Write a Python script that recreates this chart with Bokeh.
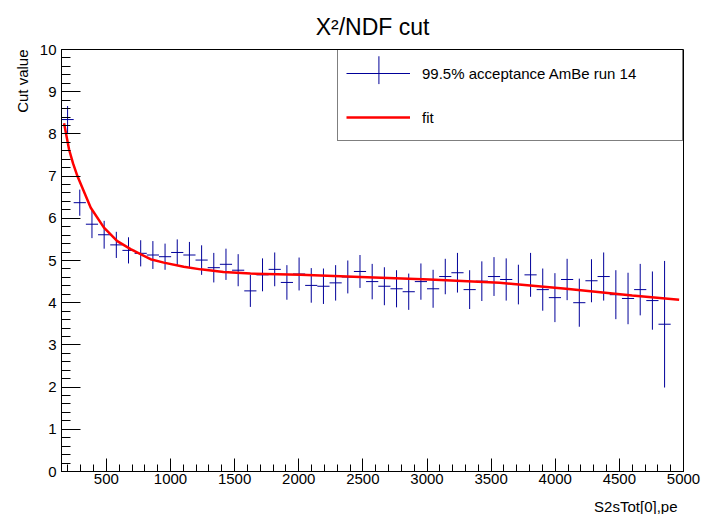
import numpy as np
from bokeh.plotting import figure
from bokeh.models import FixedTicker, Legend, LegendItem, Range1d, Title
from bokeh.embed import file_html
from bokeh.resources import INLINE

# ---- data ----
bin_centers = [197.5, 292.5, 387.5, 482.5, 577.5, 672.5, 767.5, 862.5, 957.5, 1052.5,
               1147.5, 1242.5, 1337.5, 1432.5, 1527.5, 1622.5, 1717.5, 1812.5, 1907.5, 2002.5,
               2097.5, 2192.5, 2287.5, 2382.5, 2477.5, 2572.5, 2667.5, 2762.5, 2857.5, 2952.5,
               3047.5, 3142.5, 3237.5, 3332.5, 3427.5, 3522.5, 3617.5, 3712.5, 3807.5, 3902.5,
               3997.5, 4092.5, 4187.5, 4282.5, 4377.5, 4472.5, 4567.5, 4662.5, 4757.5, 4852.5]
bin_half_width = 47.5
cut_values = [8.34, 6.37, 5.86, 5.61, 5.37, 5.24, 5.17, 5.13, 5.09, 5.19,
              5.13, 5.01, 4.83, 4.91, 4.77, 4.28, 4.66, 4.79, 4.48, 4.68,
              4.41, 4.39, 4.47, 4.61, 4.74, 4.50, 4.39, 4.33, 4.26, 4.50,
              4.33, 4.62, 4.71, 4.31, 4.51, 4.62, 4.55, 4.43, 4.66, 4.31,
              4.12, 4.55, 4.00, 4.52, 4.62, 4.19, 4.10, 4.31, 4.05, 3.49]
cut_errors = [0.32, 0.31, 0.33, 0.33, 0.31, 0.31, 0.31, 0.33, 0.31, 0.31,
              0.31, 0.35, 0.35, 0.37, 0.38, 0.38, 0.39, 0.40, 0.41, 0.39,
              0.41, 0.42, 0.42, 0.39, 0.39, 0.42, 0.45, 0.44, 0.43, 0.43,
              0.45, 0.42, 0.47, 0.46, 0.47, 0.46, 0.50, 0.47, 0.52, 0.50,
              0.58, 0.49, 0.57, 0.51, 0.57, 0.58, 0.61, 0.61, 0.69, 1.50]
fit_x = [170, 209, 240, 274, 378, 481, 585, 689, 844, 948, 1103, 1235, 1413, 1624,
         2013, 2480, 3022, 3566, 4084, 4600, 4966]
fit_y = [8.25, 7.63, 7.30, 7.00, 6.25, 5.78, 5.46, 5.27, 5.03, 4.95, 4.85, 4.79, 4.73, 4.69,
         4.66, 4.61, 4.55, 4.47, 4.33, 4.17, 4.07]
x_major_ticks = [500, 1000, 1500, 2000, 2500, 3000, 3500, 4000, 4500, 5000]
y_major_ticks = [0, 1, 2, 3, 4, 5, 6, 7, 8, 9, 10]

title_text = "X\u00b2/NDF cut"
x_title = "S2sTot[0],pe"
y_title = "Cut value"
series_label = "99.5% acceptance AmBe run 14"
fit_label = "fit"

FONT = "Liberation Sans"
BLUE = "#000099"

x = np.array(bin_centers)
y = np.array(cut_values)
e = np.array(cut_errors)

p = figure(width=703, height=514, x_range=Range1d(150, 5000), y_range=Range1d(0, 10),
           output_backend="svg", toolbar_location=None,
           min_border_left=61, min_border_right=20, min_border_top=49, min_border_bottom=42)
p.background_fill_color = "white"
p.border_fill_color = "white"
p.outline_line_color = "black"
p.outline_line_width = 1
p.grid.visible = False

p.title.text = title_text
p.title.align = "center"
p.title.text_font = FONT
p.title.text_font_size = "23px"
p.title.text_font_style = "normal"
p.title.text_color = "black"
p.title.standoff = 20

# axes
p.xaxis.ticker = FixedTicker(ticks=x_major_ticks, minor_ticks=list(np.arange(200, 5001, 100)))
p.yaxis.ticker = FixedTicker(ticks=y_major_ticks, minor_ticks=list(np.round(np.arange(0, 10.01, 0.2), 2)))
for ax in (p.xaxis, p.yaxis):
    ax.axis_line_color = "black"
    ax.major_tick_line_color = "black"
    ax.minor_tick_line_color = "black"
    ax.major_tick_out = 0
    ax.minor_tick_out = 0
    ax.major_label_text_font = FONT
    ax.major_label_text_font_size = "15px"
    ax.major_label_text_color = "black"
p.xaxis.major_tick_in = 13
p.xaxis.minor_tick_in = 7
p.xaxis.major_label_standoff = 2
p.yaxis.major_tick_in = 19
p.yaxis.minor_tick_in = 9
p.yaxis.major_label_standoff = 5

# data error bars
r_h = p.segment(x0=x - bin_half_width, x1=x + bin_half_width, y0=y, y1=y,
                line_color=BLUE, line_width=1)
r_v = p.segment(x0=x, x1=x, y0=y - e, y1=y + e, line_color=BLUE, line_width=1)

# fit
r_fit = p.line(fit_x, fit_y, line_color="#ff0000", line_width=2.5)

# legend
legend = Legend(items=[LegendItem(label=series_label, renderers=[r_h]),
                       LegendItem(label=fit_label, renderers=[r_fit])],
                location="top_right", margin=0, padding=8, spacing=14,
                glyph_width=64, glyph_height=30, label_standoff=12,
                label_width=252, label_height=30,
                label_text_font=FONT, label_text_font_size="15px",
                label_text_color="black",
                border_line_color="black", border_line_width=1,
                background_fill_alpha=0)
p.add_layout(legend)
# vertical stroke of the error-bar symbol in the legend
p.segment(x0=[2625], x1=[2625], y0=[9.18], y1=[9.84], line_color=BLUE, line_width=1)

# axis titles (right / top aligned, as in the reference)
p.add_layout(Title(text=x_title, align="right", offset=6, standoff=0,
                   text_font=FONT, text_font_size="15px", text_font_style="normal",
                   text_color="black"), "below")
p.add_layout(Title(text=y_title, align="right", offset=0, standoff=12,
                   text_font=FONT, text_font_size="15px", text_font_style="normal",
                   text_color="black"), "left")
# small gap between the x tick labels and the x title
p.xaxis.axis_label = " "
p.xaxis.axis_label_text_font_size = "1px"
p.xaxis.axis_label_standoff = 5

open("out.html", "w").write(file_html(p, INLINE))
